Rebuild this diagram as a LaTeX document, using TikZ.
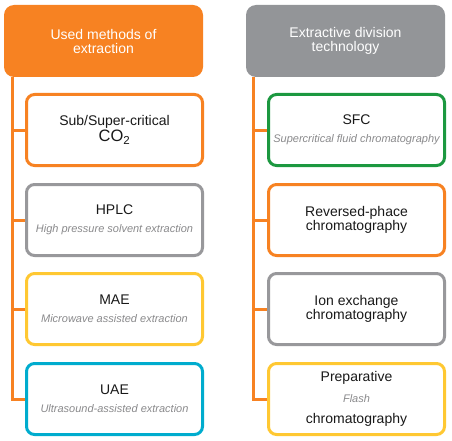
\documentclass[tikz,border=0pt]{standalone}
\usepackage{fontspec}
\setmainfont{Liberation Sans}
\usepackage{xcolor}
\usepackage{tikz}
\usetikzlibrary{positioning}

\definecolor{extOrange}{RGB}{247,130,34}
\definecolor{hdrGray}{RGB}{147,149,152}
\definecolor{boxGray}{RGB}{152,152,155}
\definecolor{extGreen}{RGB}{28,152,64}
\definecolor{extYellow}{RGB}{255,200,50}
\definecolor{extCyan}{RGB}{0,172,206}
\definecolor{subGray}{RGB}{138,138,140}
\definecolor{txtDark}{RGB}{25,25,25}

\newcommand\mainfont{\fontsize{14}{14}\selectfont}
\newcommand\subfont{\fontsize{11}{11}\selectfont\itshape\color{subGray}}

\tikzset{
  header/.style={fill=#1, text=white, rounded corners=10pt, minimum width=199pt,
    minimum height=72pt, align=center, font=\mainfont},
  method/.style={draw=#1, line width=3pt, rounded corners=8pt, fill=white,
    minimum width=176pt, minimum height=71pt, align=center, font=\mainfont,
    text=txtDark},
  trunk/.style={draw=extOrange, line width=3pt}
}

\begin{document}
\begin{tikzpicture}[x=1pt, y=-1pt]
  \useasboundingbox (0,0) rectangle (452,441);

  % headers
  \node[header=extOrange] (hdrL) at (103.5,41) {Used methods of\\extraction};
  \node[header=hdrGray]   (hdrR) at (345.5,41) {Extractive division\\technology};

  % left column: extraction methods
  \node[method=extOrange] (co2)  at (114.5,130) {Sub/Super-critical\\[0.7pt]{\fontsize{16.5}{16.5}\selectfont CO\textsubscript{2}}};
  \node[method=boxGray]   (hplc) at (114.5,220) {HPLC\\[4pt]{\subfont High pressure solvent extraction}};
  \node[method=extYellow] (mae)  at (114.5,309) {MAE\\[4pt]{\subfont Microwave assisted extraction}};
  \node[method=extCyan]   (uae)  at (114.5,399) {UAE\\[4pt]{\subfont Ultrasound-assisted extraction}};

  % right column: division technology
  \node[method=extGreen]  (sfc)  at (356.5,130) {SFC\\[4pt]{\subfont Supercritical fluid chromatography}};
  \node[method=extOrange] (rpc)  at (356.5,220) {Reversed-phace\\chromatography};
  \node[method=boxGray]   (iec)  at (356.5,309) {Ion exchange\\chromatography};
  \node[method=extYellow] (prep) at (356.5,399) {Preparative\\[7pt]{\subfont Flash}\\[7pt]chromatography};

  % trunks and branches
  \coordinate (trunkL) at ([xshift=9pt]hdrL.south west);
  \coordinate (trunkR) at ([xshift=8pt]hdrR.south west);
  \draw[trunk] (trunkL) |- (uae.west);
  \foreach \b in {co2,hplc,mae}
    \draw[trunk] (trunkL |- \b.west) -- (\b.west);
  \draw[trunk] (trunkR) |- (prep.west);
  \foreach \b in {sfc,rpc,iec}
    \draw[trunk] (trunkR |- \b.west) -- (\b.west);
\end{tikzpicture}
\end{document}
